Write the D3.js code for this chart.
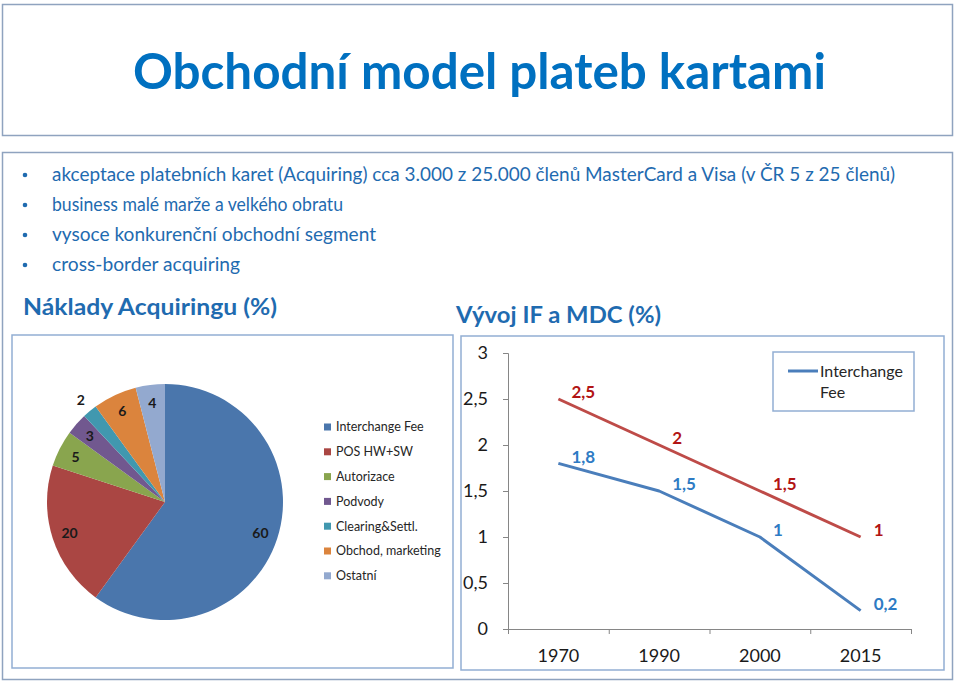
<!DOCTYPE html>
<html><head><meta charset="utf-8">
<script src="https://cdn.jsdelivr.net/npm/d3@7"></script>
<style>
html,body{margin:0;padding:0;background:#fff;}
svg{display:block;font-family:Lato,"Open Sans",sans-serif;}
</style></head>
<body>
<svg id="c" width="959" height="683"></svg>
<script>
// ---------- DATA ----------
const titleText = "Obchodní model plateb kartami";
const bullets = [
  "akceptace platebních karet (Acquiring) cca 3.000 z 25.000 členů MasterCard a Visa (v ČR 5 z 25 členů)",
  "business malé marže a velkého obratu",
  "vysoce konkurenční obchodní segment",
  "cross-border acquiring"
];
const pieTitle = "Náklady Acquiringu (%)";
const pieCategories = ["Interchange Fee","POS HW+SW","Autorizace","Podvody","Clearing&Settl.","Obchod, marketing","Ostatní"];
const pieValues = [60,20,5,3,2,6,4];
const lineTitle = "Vývoj IF a MDC (%)";
const years = ["1970","1990","2000","2015"];
const ifValues = [1.8,1.5,1,0.2];
const mdcValues = [2.5,2,1.5,1];
const yTicks = [0,0.5,1,1.5,2,2.5,3];
const lineLegend = ["Interchange","Fee"];

// ---------- STYLE ----------
const pieColors = ["#4A76AC","#AA4643","#89A54E","#71588F","#4198AF","#DB843D","#93A9CF"];
const titleBlue = "#0070C0", textBlue = "#1F6BB0";
const blueLine = "#4A7EBB", redLine = "#BE4B48";
const blueLbl = "#2E7BC4", redLbl = "#B21414";
const boxStroke = "#8FA3BF", innerStroke = "#92AED3";

const svg = d3.select("#c");
svg.append("rect").attr("width",959).attr("height",683).attr("fill","#fff");

// title box
svg.append("rect").attr("x",2.5).attr("y",4.5).attr("width",950).attr("height",131)
  .attr("fill","none").attr("stroke",boxStroke).attr("stroke-width",1.5);
svg.append("text").attr("x",133).attr("y",89).attr("font-size",49).attr("font-weight",700)
  .attr("fill",titleBlue).attr("textLength",693).attr("lengthAdjust","spacingAndGlyphs").text(titleText);

// content box
svg.append("rect").attr("x",2.5).attr("y",152.5).attr("width",950).attr("height",527)
  .attr("fill","none").attr("stroke",boxStroke).attr("stroke-width",1.5);

const bulletWidths = [843,291,324,188];
bullets.forEach((b,i)=>{
  const yy = 175 + i*30;
  svg.append("circle").attr("cx",25).attr("cy",yy).attr("r",2.3).attr("fill",textBlue);
  svg.append("text").attr("x",52).attr("y",yy+6).attr("font-size",18.5).attr("fill",textBlue)
    .attr("textLength",bulletWidths[i]).attr("lengthAdjust","spacingAndGlyphs").text(b);
});

// section titles
svg.append("text").attr("x",23).attr("y",315).attr("font-size",22).attr("font-weight",700)
  .attr("fill",textBlue).attr("textLength",254).attr("lengthAdjust","spacingAndGlyphs").text(pieTitle);
svg.append("text").attr("x",456).attr("y",323).attr("font-size",22).attr("font-weight",700)
  .attr("fill",textBlue).attr("textLength",205).attr("lengthAdjust","spacingAndGlyphs").text(lineTitle);

// ---------- PIE ----------
svg.append("rect").attr("x",12).attr("y",335).attr("width",441).attr("height",333)
  .attr("fill","#fff").attr("stroke",innerStroke).attr("stroke-width",1.5);
const R = 118, cx = 165, cy = 502;
const pie = d3.pie().sort(null).value(d=>d)(pieValues);
const arc = d3.arc().innerRadius(0).outerRadius(R);
const gp = svg.append("g").attr("transform",`translate(${cx},${cy})`);
gp.selectAll("path").data(pie).join("path").attr("d",arc).attr("fill",(d,i)=>pieColors[i]);
gp.selectAll("text").data(pie).join("text")
  .attr("transform",d=>{
    const a=(d.startAngle+d.endAngle)/2, r = d.value<3 ? R*1.12 : R*0.85;
    return `translate(${Math.sin(a)*r},${-Math.cos(a)*r})`;})
  .attr("text-anchor","middle").attr("dy","0.36em").attr("font-size",14).attr("font-weight",700)
  .attr("fill","#1a1a1a").text(d=>d.value);

const lg = svg.append("g");
pieCategories.forEach((c,i)=>{
  const yy = 427 + i*24.8;
  lg.append("rect").attr("x",324).attr("y",yy-3.5).attr("width",7).attr("height",7).attr("fill",pieColors[i]);
  lg.append("text").attr("x",336).attr("y",yy+4.3).attr("font-size",12.5).attr("fill","#262626").text(c);
});

// ---------- LINE ----------
svg.append("rect").attr("x",461).attr("y",336).attr("width",483).attr("height",334)
  .attr("fill","#fff").attr("stroke",innerStroke).attr("stroke-width",1.5);
const loc = d3.formatLocale({decimal:",",thousands:" ",grouping:[3],currency:["",""]});
const fmt = v => loc.format("~g")(v);
const x = d3.scaleBand().domain(years).range([508,911]).padding(0);
const y = d3.scaleLinear().domain([0,3]).range([629,353]);

const ya = svg.append("g").attr("transform","translate(508,0)")
  .call(d3.axisLeft(y).tickValues(yTicks).tickSize(5).tickPadding(15).tickFormat(fmt));
ya.select(".domain").attr("stroke","#868686").attr("d","M-5,353.5H0.5V629.5");
ya.selectAll(".tick line").attr("stroke","#868686");
ya.selectAll("text").attr("font-size",18).attr("fill","#1a1a1a").attr("font-family","Lato,sans-serif");

const xa = svg.append("g").attr("transform","translate(0,629)")
  .call(d3.axisBottom(x).tickSize(0).tickPadding(20));
xa.select(".domain").attr("stroke","#868686");
xa.selectAll("text").attr("font-size",18).attr("fill","#1a1a1a").attr("font-family","Lato,sans-serif");
const edges = years.map(d=>x(d)).concat([x.range()[1]]);
xa.selectAll(".edge").data(edges).join("line").attr("class","edge")
  .attr("x1",d=>d+0.5).attr("x2",d=>d+0.5).attr("y1",0).attr("y2",5).attr("stroke","#868686");

const px = d => x(d)+x.bandwidth()/2;
const line = d3.line().x((v,i)=>px(years[i])).y(v=>y(v));
[[mdcValues,redLine,redLbl],[ifValues,blueLine,blueLbl]].forEach(([vals,lc,tc])=>{
  svg.append("path").attr("d",line(vals)).attr("fill","none").attr("stroke",lc)
    .attr("stroke-width",3).attr("stroke-linejoin","round");
  svg.append("g").selectAll("text").data(vals).join("text")
    .attr("x",(v,i)=>px(years[i])+13).attr("y",v=>y(v)-7).attr("dy","0.36em")
    .attr("font-size",17).attr("font-weight",700).attr("fill",tc).text(v=>fmt(v));
});

// legend
svg.append("rect").attr("x",773).attr("y",352).attr("width",141).attr("height",59)
  .attr("fill","#fff").attr("stroke",innerStroke).attr("stroke-width",1.5);
svg.append("line").attr("x1",788).attr("x2",818).attr("y1",371).attr("y2",371)
  .attr("stroke",blueLine).attr("stroke-width",3);
lineLegend.forEach((t,i)=>{
  svg.append("text").attr("x",820).attr("y",377+i*21).attr("font-size",16).attr("fill","#262626").text(t);
});
</script>
</body></html>
